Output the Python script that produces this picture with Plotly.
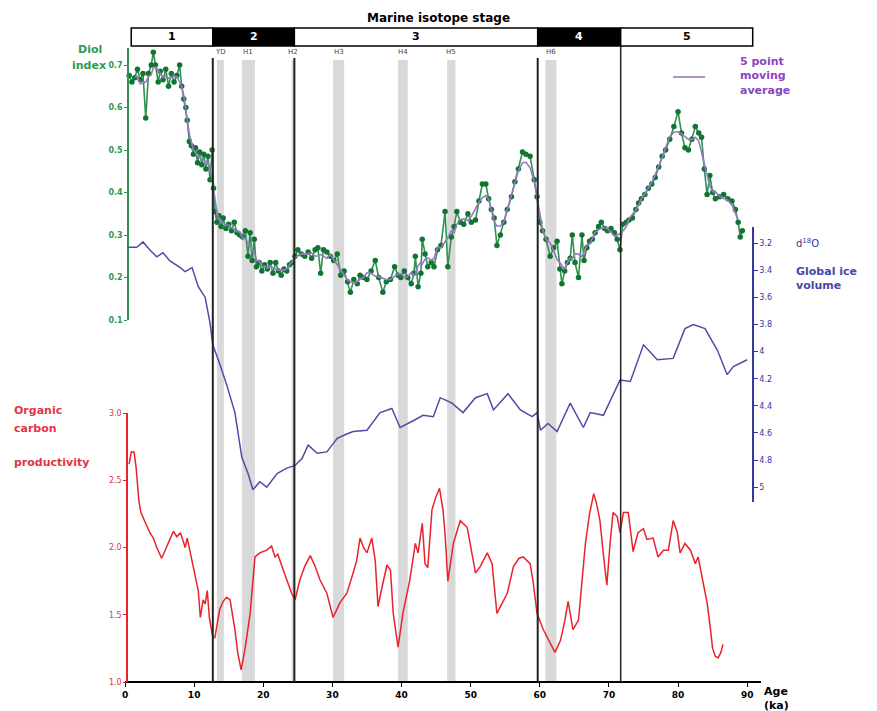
import plotly.graph_objects as go
import pandas as pd

# ---------------- data ----------------
diol_age = [0.6,1.0,1.4,1.8,2.2,2.6,3.0,3.4,3.8,4.1,4.4,4.8,5.1,5.5,5.9,6.3,6.7,7.1,7.5,7.9,
            8.2,8.5,8.8,9.0,9.3,9.6,9.9,10.2,10.5,10.8,11.1,11.4,11.7,12.0,12.3,12.6,12.8,13.0,13.3,13.6,
            13.9,14.2,14.6,15.0,15.4,15.8,16.2,16.6,17.0,17.4,17.8,18.1,18.4,18.7,19.0,19.4,19.8,20.2,20.6,21.0,
            21.4,21.8,22.2,22.6,23.0,23.4,23.8,24.2,24.6,25.0,25.5,26.0,26.5,27.0,27.5,27.9,28.3,28.7,29.2,29.7,
            30.2,30.7,31.2,31.7,32.2,32.6,33.1,33.6,34.0,34.5,35.0,35.6,36.2,36.7,37.3,37.8,38.4,39.0,39.5,39.9,
            40.4,40.9,41.4,41.8,42.0,42.4,42.8,43.0,43.4,43.8,44.3,44.7,45.2,45.7,46.3,46.7,47.2,47.6,48.0,48.5,
            49.0,49.6,50.1,50.7,51.2,51.7,52.2,52.6,53.0,53.4,53.8,54.3,54.8,55.3,55.9,56.4,56.9,57.5,58.0,58.6,
            59.2,59.6,60.0,60.4,60.9,61.5,62.0,62.5,62.9,63.2,63.6,64.0,64.4,64.7,65.1,65.6,66.1,66.4,66.8,67.2,
            67.6,68.0,68.5,68.9,69.4,69.8,70.3,70.8,71.2,71.6,72.0,72.5,72.9,73.4,73.9,74.3,74.7,75.2,75.7,76.2,
            76.7,77.2,77.7,78.2,78.8,79.4,80.0,80.5,81.0,81.5,82.0,82.5,83.0,83.4,83.8,84.2,84.6,85.0,85.4,86.0,
            86.6,87.2,87.8,88.3,88.7,89.0,89.3]
diol_index = [0.675,0.66,0.67,0.69,0.665,0.68,0.575,0.68,0.70,0.73,0.70,0.66,0.685,0.665,0.69,0.65,0.68,0.66,0.675,0.70,
              0.65,0.62,0.60,0.57,0.52,0.51,0.49,0.505,0.47,0.495,0.465,0.49,0.455,0.485,0.43,0.50,0.41,0.355,0.33,0.345,
              0.32,0.34,0.315,0.325,0.31,0.33,0.305,0.30,0.295,0.31,0.25,0.305,0.24,0.29,0.225,0.235,0.215,0.23,0.22,0.235,
              0.21,0.235,0.215,0.205,0.22,0.215,0.23,0.235,0.25,0.265,0.255,0.25,0.26,0.245,0.265,0.27,0.21,0.265,0.26,0.25,
              0.24,0.255,0.205,0.215,0.19,0.165,0.195,0.185,0.205,0.20,0.195,0.215,0.24,0.20,0.165,0.19,0.195,0.225,0.205,0.20,
              0.215,0.20,0.185,0.21,0.25,0.178,0.21,0.29,0.255,0.225,0.235,0.225,0.265,0.275,0.355,0.225,0.295,0.32,0.355,0.33,
              0.325,0.35,0.33,0.335,0.38,0.42,0.42,0.385,0.36,0.34,0.275,0.30,0.33,0.36,0.39,0.425,0.455,0.495,0.49,0.485,
              0.43,0.39,0.33,0.31,0.29,0.25,0.27,0.285,0.22,0.185,0.215,0.235,0.245,0.30,0.235,0.20,0.30,0.24,0.27,0.285,
              0.29,0.305,0.32,0.33,0.315,0.31,0.315,0.305,0.29,0.265,0.325,0.33,0.335,0.34,0.36,0.375,0.385,0.395,0.41,0.42,
              0.435,0.46,0.485,0.50,0.525,0.555,0.59,0.54,0.505,0.50,0.525,0.555,0.54,0.53,0.455,0.395,0.44,0.40,0.385,0.39,
              0.395,0.385,0.38,0.36,0.33,0.295,0.31]

d18o_age = [0.3,1.7,2.6,3.6,4.6,5.5,6.5,8.0,8.7,9.7,10.6,11.6,12.3,12.7,13.7,14.8,15.9,16.9,17.8,18.5,
            19.5,20.5,22.0,23.4,24.6,25.6,26.5,27.8,29.2,30.7,32.0,33.0,35.0,36.9,38.6,39.8,41.7,43.1,44.6,45.6,
            47.3,48.9,50.7,52.4,53.3,55.4,57.2,58.9,59.6,60.1,61.2,62.5,64.4,66.3,67.3,69.2,71.6,73.1,75.0,77.0,
            79.3,81.0,82.2,83.9,85.7,87.1,88.0,90.0]
d18o_value = [3.23,3.23,3.19,3.25,3.30,3.27,3.33,3.38,3.41,3.38,3.52,3.60,3.79,3.95,4.09,4.26,4.45,4.78,4.90,5.02,
              4.96,5.00,4.90,4.86,4.84,4.79,4.69,4.75,4.74,4.64,4.61,4.59,4.58,4.45,4.42,4.56,4.51,4.47,4.48,4.34,
              4.38,4.45,4.34,4.31,4.43,4.31,4.43,4.48,4.45,4.58,4.53,4.59,4.38,4.56,4.45,4.47,4.21,4.22,3.95,4.06,
              4.05,3.83,3.80,3.83,3.99,4.17,4.11,4.06]

corg_age = [0.6,0.9,1.3,1.6,2.0,2.3,2.9,3.6,4.1,4.6,5.3,6.0,6.5,7.0,7.5,8.0,8.4,8.7,9.0,9.4,
            9.9,10.3,10.6,10.9,11.3,11.6,11.9,12.2,12.7,13.0,13.4,13.7,14.2,14.7,15.2,15.6,15.9,16.3,16.8,17.4,
            18.1,18.5,18.8,19.5,20.0,20.5,21.2,21.7,22.1,22.4,22.9,23.4,24.1,24.6,25.3,26.0,26.8,27.5,28.2,29.2,
            30.1,31.1,32.1,33.0,33.5,34.0,34.5,35.0,35.7,36.2,36.6,37.2,37.9,38.4,38.8,39.5,40.2,41.2,42.0,42.4,
            43.0,43.4,43.8,44.4,45.0,45.5,46.0,46.3,46.7,47.5,48.5,49.5,50.1,50.7,51.4,52.4,53.1,53.8,54.3,55.3,
            56.2,57.0,57.6,58.6,59.0,59.6,60.5,61.5,62.2,63.0,63.6,64.1,64.8,65.6,66.1,66.6,67.2,67.8,68.2,68.7,
            69.2,69.7,70.2,70.6,71.2,71.6,72.1,72.8,73.5,74.2,75.0,75.5,76.4,77.1,77.9,78.6,79.3,79.9,80.3,81.0,
            81.8,82.5,82.9,83.6,84.2,84.7,85.0,85.4,85.8,86.2,86.5]
corg_value = [2.62,2.71,2.71,2.60,2.35,2.26,2.19,2.11,2.07,2.00,1.92,2.00,2.06,2.12,2.08,2.11,2.05,2.00,2.07,1.98,
              1.85,1.75,1.68,1.48,1.61,1.58,1.68,1.48,1.33,1.33,1.45,1.54,1.60,1.63,1.61,1.50,1.39,1.22,1.09,1.26,
              1.51,1.75,1.93,1.96,1.97,1.98,2.01,1.93,1.95,1.91,1.83,1.76,1.66,1.61,1.76,1.86,1.94,1.86,1.76,1.66,
              1.48,1.59,1.66,1.81,1.90,2.07,2.00,1.96,2.07,1.90,1.56,1.71,1.87,1.83,1.51,1.26,1.51,1.76,2.03,1.96,
              2.18,1.88,1.85,2.28,2.38,2.44,2.28,2.10,1.75,2.03,2.20,2.15,1.98,1.81,1.86,1.96,1.88,1.51,1.56,1.66,
              1.86,1.92,1.93,1.88,1.76,1.51,1.39,1.29,1.22,1.31,1.45,1.60,1.39,1.46,1.75,2.03,2.25,2.40,2.33,2.20,
              1.95,1.72,2.05,2.26,2.23,2.11,2.26,2.26,1.97,2.11,2.14,2.06,2.07,1.93,1.98,1.98,2.20,2.11,1.96,2.03,
              1.98,1.88,1.93,1.74,1.59,1.39,1.25,1.19,1.18,1.22,1.28]

stage_labels = ["1", "2", "3", "4", "5"]
stage_bounds = [0.9, 12.7, 24.5, 59.7, 71.7, 90.8]
stage_dark = [False, True, False, True, False]

heinrich_labels = ["YD", "H1", "H2", "H3", "H4", "H5", "H6"]
heinrich_start = [13.3, 16.9, 24.1, 30.1, 39.5, 46.6, 60.8]
heinrich_end = [14.3, 18.8, 24.6, 31.7, 40.9, 47.8, 62.4]

x_ticks = [0, 10, 20, 30, 40, 50, 60, 70, 80, 90]
diol_ticks = [0.1, 0.2, 0.3, 0.4, 0.5, 0.6, 0.7]
d18o_ticks = [3.2, 3.4, 3.6, 3.8, 4.0, 4.2, 4.4, 4.6, 4.8, 5.0]
d18o_ticktext = ["3.2", "3.4", "3.6", "3.8", "4", "4.2", "4.4", "4.6", "4.8", "5"]
corg_ticks = [1.0, 1.5, 2.0, 2.5, 3.0]

diol_ma = pd.Series(diol_index).rolling(5, center=True).mean().tolist()

# ---------------- styles ----------------
GREEN_LINE = "#2f9252"
GREEN_MARK = "#107533"
GREEN_TXT = "#2e9a50"
PURPLE = "#9a78c4"
PURPLE_TXT = "#8a44c4"
BLUE = "#4d4da6"
BLUE_AX = "#3636a0"
RED = "#e8232b"
RED_TXT = "#e33445"
FONT = "DejaVu Sans"

# page body has an 8px margin: the figure's own pixel = screen pixel - 8
OFF = 8
FIG_W, FIG_H = 877 - OFF, 711 - OFF
X_AXIS_Y = 682.0          # screen y of the x axis
PLOT_L, PLOT_R = 125.0, 761.0  # screen x of the plot area
PLOT_H = X_AXIS_Y - OFF   # plot area from figure top down to the x axis


def py(pix):
    return (X_AXIS_Y - pix) / PLOT_H


def px(pix):
    return (pix - PLOT_L) / (PLOT_R - PLOT_L)


fig = go.Figure()

fig.add_trace(go.Scatter(x=diol_age, y=diol_index, mode="lines+markers", yaxis="y",
                         line=dict(color=GREEN_LINE, width=1.6),
                         marker=dict(color=GREEN_MARK, size=5.5, symbol="circle"),
                         showlegend=False, cliponaxis=False))
fig.add_trace(go.Scatter(x=diol_age, y=diol_ma, mode="lines", yaxis="y",
                         line=dict(color=PURPLE, width=1.6), showlegend=False, cliponaxis=False))
fig.add_trace(go.Scatter(x=d18o_age, y=d18o_value, mode="lines", yaxis="y2",
                         line=dict(color=BLUE, width=1.5), showlegend=False, cliponaxis=False))
fig.add_trace(go.Scatter(x=corg_age, y=corg_value, mode="lines", yaxis="y3",
                         line=dict(color=RED, width=1.5), showlegend=False, cliponaxis=False))

shapes = []
# Heinrich bands
for s, e in zip(heinrich_start, heinrich_end):
    shapes.append(dict(type="rect", xref="x", yref="paper", x0=s, x1=e, y0=0, y1=py(60),
                       fillcolor="#d9d9d9", line=dict(width=0), layer="below"))
# vertical stage boundary lines
for i, b in enumerate(stage_bounds[1:-1]):
    top = py(46) if i == 3 else py(58)
    shapes.append(dict(type="line", xref="x", yref="paper", x0=b, x1=b, y0=0, y1=top,
                       line=dict(color="#222222", width=2 if i < 3 else 1.5), layer="above"))
# stage boxes
for i in range(len(stage_labels)):
    shapes.append(dict(type="rect", xref="x", yref="paper", x0=stage_bounds[i], x1=stage_bounds[i + 1],
                       y0=py(46), y1=py(28), fillcolor="black" if stage_dark[i] else "white",
                       line=dict(color="black", width=1.5)))
# legend line for moving average
shapes.append(dict(type="line", xref="paper", yref="paper", x0=px(673), x1=px(705), y0=py(77), y1=py(77),
                   line=dict(color=PURPLE, width=1.6)))


def ann(text, x, y, size=11, color="black", xanchor="center", align="center", xref="paper"):
    return dict(text=text, xref=xref, yref="paper", x=x, y=y, xanchor=xanchor, yanchor="middle",
                align=align, showarrow=False, font=dict(family=FONT, size=size, color=color))


annotations = [ann("<b>Marine isotope stage</b>", px(438), py(18), size=12)]
for i, lab in enumerate(stage_labels):
    annotations.append(ann("<b>%s</b>" % lab, (stage_bounds[i] + stage_bounds[i + 1]) / 2, py(37),
                           color="white" if stage_dark[i] else "black", xref="x"))
for lab, s, e in zip(heinrich_labels, heinrich_start, heinrich_end):
    annotations.append(ann(lab, (s + e) / 2, py(52), size=7, color="#444444", xref="x"))

annotations += [
    ann("<b>Diol</b>", px(90), py(49), color=GREEN_TXT),
    ann("<b>index</b>", px(89), py(66), color=GREEN_TXT),
    ann("<b>Organic</b>", px(12), py(411), color=RED_TXT, xanchor="left"),
    ann("<b>carbon</b>", px(12), py(428), color=RED_TXT, xanchor="left"),
    ann("<b>productivity</b>", px(12), py(463), color=RED_TXT, xanchor="left"),
    ann("d<sup>18</sup>O", px(794), py(243), size=10, color=BLUE_AX, xanchor="left"),
    ann("<b>Global ice<br>volume</b>", px(794), py(279), color="#4848a8", xanchor="left", align="left"),
    ann("<b>5 point<br>moving<br>average</b>", px(738), py(76), color=PURPLE_TXT, xanchor="left", align="left"),
    ann("<b>Age<br>(ka)</b>", px(762), py(698), xanchor="left", align="left"),
]

fig.update_layout(
    width=FIG_W, height=FIG_H,
    margin=dict(l=PLOT_L - OFF, r=FIG_W - (PLOT_R - OFF), t=0, b=FIG_H - PLOT_H, autoexpand=False),
    paper_bgcolor="white", plot_bgcolor="rgba(0,0,0,0)",
    showlegend=False,
    font=dict(family=FONT),
    xaxis=dict(range=[0, 92], domain=[0, 1], anchor="free", position=0,
               tickvals=x_ticks, ticks="outside", ticklen=4, tickcolor="black",
               showline=True, linecolor="black", linewidth=1.5, showgrid=False, zeroline=False,
               tickfont=dict(family=FONT, size=9, color="black", weight="bold")),
    yaxis=dict(domain=[py(320), py(48)], range=[0.1, 0.74], anchor="free", position=px(128), side="left",
               tickvals=diol_ticks, ticktext=["%.1f" % v for v in diol_ticks],
               ticks="outside", ticklen=3, tickcolor=GREEN_LINE,
               showline=True, linecolor=GREEN_LINE, linewidth=1.5, showgrid=False, zeroline=False,
               tickfont=dict(family=FONT, size=8, color=GREEN_TXT, weight="bold")),
    yaxis2=dict(domain=[py(502), py(227)], range=[5.11, 3.08], anchor="free", position=px(753), side="right",
                tickvals=d18o_ticks, ticktext=d18o_ticktext,
                ticks="outside", ticklen=4, tickcolor=BLUE_AX,
                showline=True, linecolor=BLUE_AX, linewidth=1.5, showgrid=False, zeroline=False,
                tickfont=dict(family=FONT, size=8, color=BLUE_AX)),
    yaxis3=dict(domain=[0, py(413)], range=[1.0, 3.0], anchor="free", position=px(127), side="left",
                tickvals=corg_ticks, ticktext=["%.1f" % v for v in corg_ticks],
                ticks="outside", ticklen=3, tickcolor=RED,
                showline=True, linecolor=RED, linewidth=1.5, showgrid=False, zeroline=False,
                tickfont=dict(family=FONT, size=8, color=RED_TXT)),
    shapes=shapes,
    annotations=annotations,
)

fig.write_html("out.html")
